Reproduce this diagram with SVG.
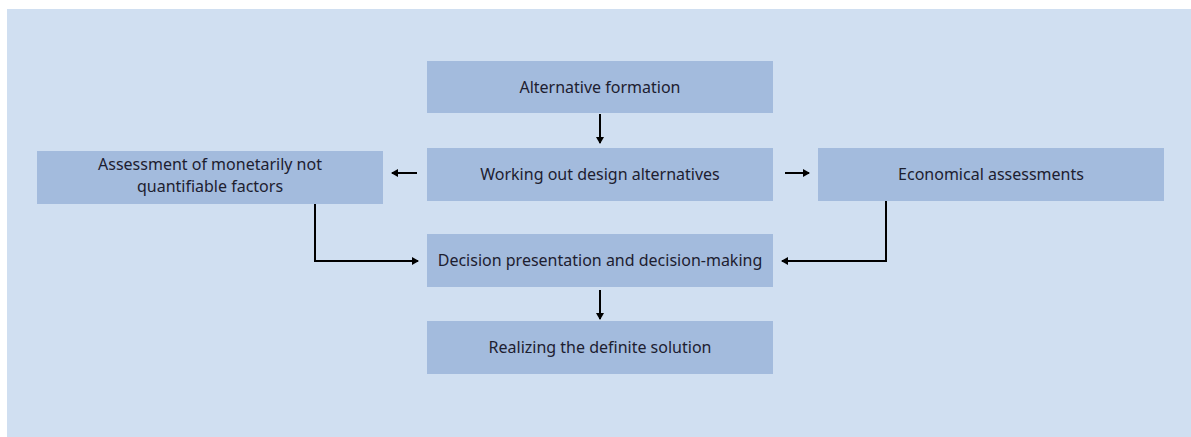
<svg xmlns="http://www.w3.org/2000/svg" width="1191" height="437" viewBox="0 0 1191 437">
<defs>
<style>
.bg{fill:#d0dff1}
.box{fill:#a3bbdd}
.t{font-family:"Noto Sans","Liberation Sans",sans-serif;font-size:16px;fill:#1d2030;text-anchor:middle}
.c{fill:none;stroke:#000;stroke-width:2}
</style>
<marker id="ah" markerWidth="7" markerHeight="8" refX="6" refY="4" orient="auto" markerUnits="userSpaceOnUse">
<path d="M0,0 L7,4 L0,8 Z" fill="#000"/>
</marker>
</defs>
<rect class="bg" x="7" y="9" width="1184" height="428"/>
<g id="n1"><rect class="box" x="427" y="61" width="346" height="52"/><text class="t" x="600" y="93">Alternative formation</text></g>
<g id="n2"><rect class="box" x="427" y="148" width="346" height="53"/><text class="t" x="600" y="180">Working out design alternatives</text></g>
<g id="n3"><rect class="box" x="37" y="151" width="346" height="53"/><text class="t" x="210" y="169.5">Assessment of monetarily not</text><text class="t" x="210" y="191.5">quantifiable factors</text></g>
<g id="n4"><rect class="box" x="818" y="148" width="346" height="53"/><text class="t" x="991" y="180">Economical assessments</text></g>
<g id="n5"><rect class="box" x="427" y="234" width="346" height="53"/><text class="t" x="600" y="266">Decision presentation and decision-making</text></g>
<g id="n6"><rect class="box" x="427" y="321" width="346" height="53"/><text class="t" x="600" y="353">Realizing the definite solution</text></g>
<g id="connectors">
<path class="c" d="M600,114 V143" marker-end="url(#ah)"/>
<path class="c" d="M417,173 H392" marker-end="url(#ah)"/>
<path class="c" d="M785,173 H809" marker-end="url(#ah)"/>
<path class="c" d="M315,204 V261 H418" marker-end="url(#ah)"/>
<path class="c" d="M886,201 V261 H782" marker-end="url(#ah)"/>
<path class="c" d="M600,290 V319" marker-end="url(#ah)"/>
</g>
</svg>
